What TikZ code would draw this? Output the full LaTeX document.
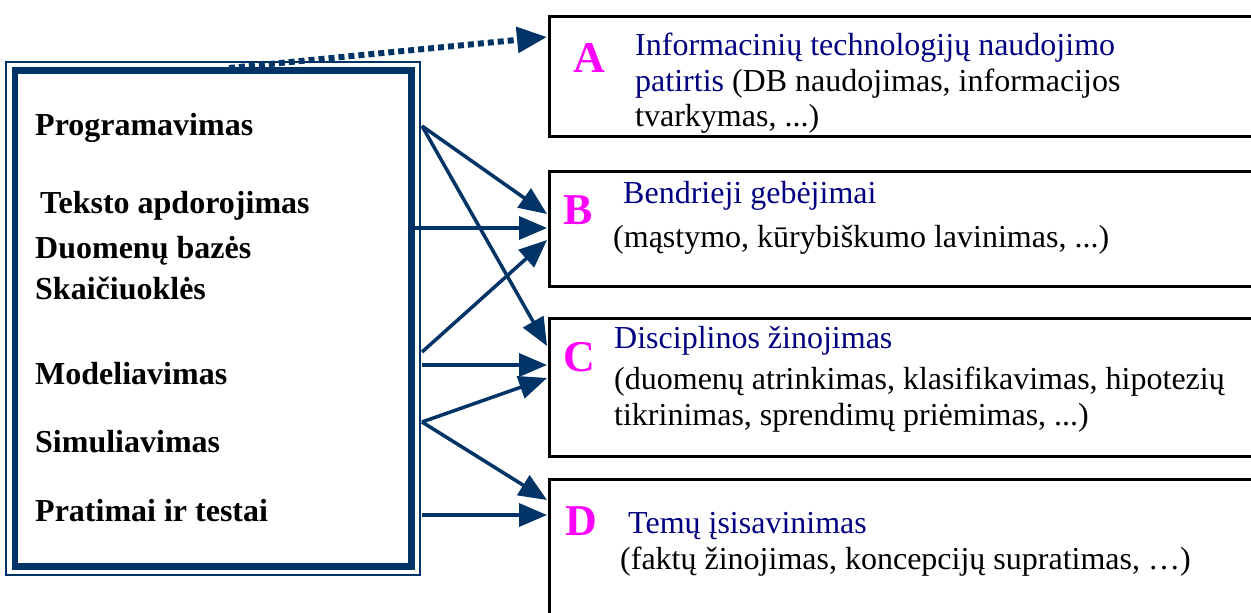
\documentclass[tikz,border=0pt]{standalone}
\usepackage{fontspec}
\setmainfont{Liberation Serif}
\usetikzlibrary{arrows.meta,calc}
\definecolor{navy}{HTML}{003366}
\definecolor{dblue}{HTML}{000080}
\definecolor{mag}{HTML}{FF00FF}
\begin{document}
\begin{tikzpicture}[x=1pt,y=-1pt,
 lbl/.style={anchor=base west,inner sep=0pt,font=\fontsize{32}{36}\selectfont\bfseries},
 rtxt/.style={anchor=base west,inner sep=0pt,font=\fontsize{32}{36}\selectfont},
 ttl/.style={rtxt,text=dblue},
 letter/.style={anchor=base west,inner sep=0pt,text=mag,font=\fontsize{44}{48}\selectfont\bfseries},
 rbox/.style={draw=black,line width=3pt,anchor=north west,inner sep=0pt,minimum width=760pt},
 conn/.style={draw=navy,line width=3.5pt,-{Triangle[length=28pt,width=23pt]}},
 dotconn/.style={draw=navy,line width=6pt,dash pattern=on 6pt off 4pt,-{Triangle[length=30pt,width=25pt]}},
]
\useasboundingbox (0,0) rectangle (1251,613);
\clip (0,0) rectangle (1251,613);

% left box
\node[draw=navy,line width=6.5pt,minimum width=396.5pt,minimum height=496pt,inner sep=0pt] (L) at (213.25,318.5) {};
\draw[navy,line width=1.6pt] ($(L.north west)+(-5.5,-5.5)$) rectangle ($(L.south east)+(5.5,5.5)$);

\node[lbl] (t1) at (35,135) {Programavimas};
\node[lbl] (t2) at (40,213) {Teksto apdorojimas};
\node[lbl] (t3) at (35,258) {Duomenų bazės};
\node[lbl] (t4) at (35,299) {Skaičiuoklės};
\node[lbl] (t5) at (35,384) {Modeliavimas};
\node[lbl] (t6) at (35,452) {Simuliavimas};
\node[lbl] (t7) at (35,521) {Pratimai ir testai};

% right boxes
\node[rbox,minimum height=120pt] (A) at (548,15) {};
\node[rbox,minimum height=115pt] (B) at (548,170) {};
\node[rbox,minimum height=138pt] (C) at (548,317) {};
\node[rbox,minimum height=180pt] (D) at (548,478) {};

\node[letter] (la) at (573,72) {A};
\node[ttl] (a1) at (635,55) {Informacinių technologijų naudojimo};
\node[rtxt] (a2) at (635,91) {\textcolor{dblue}{patirtis} (DB naudojimas, informacijos};
\node[rtxt] (a3) at (635,126) {tvarkymas, ...)};

\node[letter] (lb) at (563,224) {B};
\node[ttl] (b1) at (623,203) {Bendrieji gebėjimai};
\node[rtxt] (b2) at (613,247) {(mąstymo, kūrybiškumo lavinimas, ...)};

\node[letter] (lc) at (563,371) {C};
\node[ttl] (c1) at (614,348) {Disciplinos žinojimas};
\node[rtxt] (c2) at (614,389) {(duomenų atrinkimas, klasifikavimas, hipotezių};
\node[rtxt] (c3) at (614,425) {tikrinimas, sprendimų priėmimas, ...)};

\node[letter] (ld) at (565,535) {D};
\node[ttl] (d1) at (628,533) {Temų įsisavinimas};
\node[rtxt] (d2) at (620,569) {(faktų žinojimas, koncepcijų supratimas, …)};

% start points
\coordinate (s0) at (229,68);
\coordinate (sP) at (422,126);
\coordinate (sT) at (413,228);
\coordinate (sM) at (422,352);
\coordinate (sMh) at (422,365);
\coordinate (sS) at (422,422);
\coordinate (sPr) at (422,515);

% connectors
\draw[dotconn] (s0) -- ($(A.north west)+(-1,22)$);
\draw[conn] (sP) -- ($(B.north west)+(-1,44)$);
\draw[conn] (sP) -- ($(C.north west)+(-1,29)$);
\draw[conn] (sT) -- ($(B.north west)+(-1,58)$);
\draw[conn] (sM) -- ($(B.north west)+(-1,70)$);
\draw[conn] (sMh) -- ($(C.north west)+(-1,48)$);
\draw[conn] (sS) -- ($(C.north west)+(-1,61)$);
\draw[conn] (sS) -- ($(D.north west)+(-1,22)$);
\draw[conn] (sPr) -- ($(D.north west)+(-1,37)$);
\end{tikzpicture}
\end{document}
